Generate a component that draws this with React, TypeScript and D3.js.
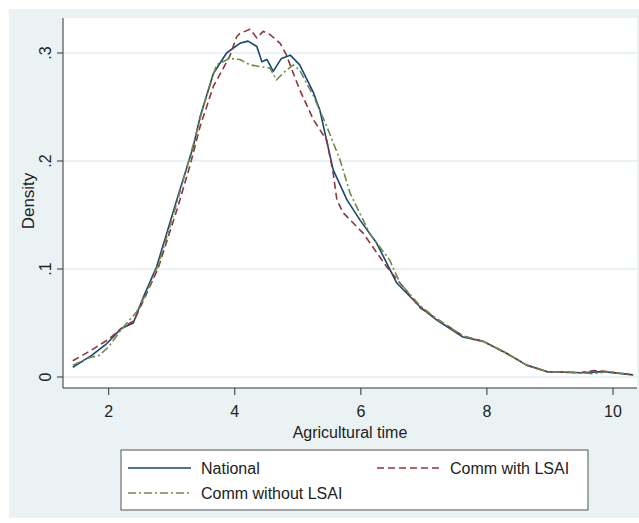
import React from "react";
import * as d3 from "d3";

const xTicks = [2, 4, 6, 8, 10];
const yTicks = [0, 0.1, 0.2, 0.3];
const yTickLabels = ["0", ".1", ".2", ".3"];

const nationalX = [1.43,1.73,1.97,2.2,2.39,2.55,2.76,3.08,3.34,3.45,3.66,3.87,4.08,4.21,4.35,4.43,4.51,4.61,4.74,4.88,5.03,5.25,5.35,5.56,5.78,5.99,6.25,6.57,6.94,7.2,7.62,7.94,8.31,8.63,8.95,9.48,9.85,10.32];
const nationalY = [.009,.020,.031,.045,.050,.074,.102,.164,.213,.241,.281,.300,.309,.311,.306,.292,.294,.283,.295,.298,.289,.263,.247,.192,.164,.145,.124,.087,.065,.053,.037,.033,.022,.011,.005,.004,.005,.002];

const withX = [1.43,1.7,2.0,2.2,2.4,2.56,2.78,3.1,3.3,3.45,3.66,3.92,4.03,4.08,4.24,4.35,4.45,4.56,4.72,4.82,4.93,5.03,5.25,5.46,5.56,5.62,5.72,6.04,6.41,6.62,6.94,7.36,7.62,7.94,8.31,8.63,8.95,9.48,9.7,9.9,10.32];
const withY = [.015,.024,.035,.045,.052,.072,.100,.158,.198,.232,.269,.297,.315,.318,.322,.314,.320,.317,.309,.298,.281,.266,.238,.219,.189,.164,.152,.133,.102,.087,.064,.048,.038,.033,.022,.011,.005,.004,.006,.005,.002];

const withoutX = [1.43,1.7,1.85,2.0,2.2,2.44,2.6,2.8,3.1,3.35,3.5,3.71,3.92,4.08,4.24,4.45,4.56,4.66,4.8,4.93,5.03,5.25,5.46,5.67,5.83,5.93,6.14,6.46,6.62,6.94,7.2,7.62,7.94,8.31,8.63,8.95,9.48,9.7,9.9,10.32];
const withoutY = [.011,.018,.020,.028,.044,.060,.078,.106,.165,.217,.250,.289,.295,.294,.289,.287,.286,.275,.283,.289,.284,.260,.232,.201,.170,.158,.133,.108,.087,.066,.054,.038,.033,.022,.011,.005,.004,.003,.005,.002];

const seriesNames = ["National", "Comm with LSAI", "Comm without LSAI"];

export default function App() {
  const W = 639, H = 523;
  const plotL = 63, plotR = 637, plotT = 18, plotB = 388;
  const x = d3.scaleLinear().domain([2, 10]).range([108.7, 613]);
  const y = d3.scaleLinear().domain([0, 0.3]).range([377, 53]);
  const line = d3.line<[number, number]>().x(d => x(d[0])).y(d => y(d[1])).curve(d3.curveLinear);
  const zip = (xs: number[], ys: number[]) => xs.map((v, i) => [v, ys[i]] as [number, number]);

  const series = [
    { name: seriesNames[0], data: zip(nationalX, nationalY), color: "#1a476f", dash: "" },
    { name: seriesNames[1], data: zip(withX, withY), color: "#90353b", dash: "7,4" },
    { name: seriesNames[2], data: zip(withoutX, withoutY), color: "#6e8a4a", dash: "8,3,2,3" },
  ];
  const font = "'Liberation Sans', Arial, sans-serif";
  const bg = "#eaf2f3";

  return (
    <svg width={W} height={H} style={{ position: "absolute", left: 0, top: 0, background: "#fff" }}>
      <rect x={9} y={9} width={W - 9} height={518 - 9} fill={bg} />
      <rect x={plotL} y={plotT} width={plotR - plotL} height={plotB - plotT} fill="#fff" />
      {yTicks.map((t, i) => (
        <line key={"g" + i} x1={plotL} x2={plotR} y1={y(t)} y2={y(t)} stroke={bg} strokeWidth={2} />
      ))}
      <line x1={plotL} x2={plotL} y1={plotT} y2={plotB} stroke="#333" strokeWidth={1} />
      <line x1={plotL} x2={plotR} y1={plotB} y2={plotB} stroke="#333" strokeWidth={1} />
      {yTicks.map((t, i) => (
        <g key={"yt" + i}>
          <line x1={plotL - 6} x2={plotL} y1={y(t)} y2={y(t)} stroke="#333" />
          <text transform={`translate(${51},${y(t)}) rotate(-90)`} textAnchor="middle" fontFamily={font} fontSize={16} fill="#222">{yTickLabels[i]}</text>
        </g>
      ))}
      {xTicks.map((t, i) => (
        <g key={"xt" + i}>
          <line x1={x(t)} x2={x(t)} y1={plotB} y2={plotB + 7} stroke="#333" />
          <text x={x(t)} y={417} textAnchor="middle" fontFamily={font} fontSize={16} fill="#222">{t}</text>
        </g>
      ))}
      <text transform={`translate(${34},${201}) rotate(-90)`} textAnchor="middle" fontFamily={font} fontSize={17} fill="#222">Density</text>
      <text x={350} y={438} textAnchor="middle" fontFamily={font} fontSize={16} fill="#222">Agricultural time</text>
      <g>
        {series.map((s, i) => (
          <path key={i} d={line(s.data) || ""} fill="none" stroke={s.color} strokeWidth={1.6} strokeDasharray={s.dash} strokeLinejoin="round" />
        ))}
      </g>
      <rect x={121} y={450} width={467} height={60} fill="#fff" stroke="#555" strokeWidth={1} />
      {[
        { s: series[0], lx: 128, ly: 468 },
        { s: series[1], lx: 377, ly: 468 },
        { s: series[2], lx: 128, ly: 493 },
      ].map((e, i) => (
        <g key={"lg" + i}>
          <line x1={e.lx} x2={e.lx + 63} y1={e.ly} y2={e.ly} stroke={e.s.color} strokeWidth={1.6} strokeDasharray={e.s.dash} />
          <text x={e.lx + 73} y={e.ly + 6} fontFamily={font} fontSize={16} fill="#222">{e.s.name}</text>
        </g>
      ))}
    </svg>
  );
}
